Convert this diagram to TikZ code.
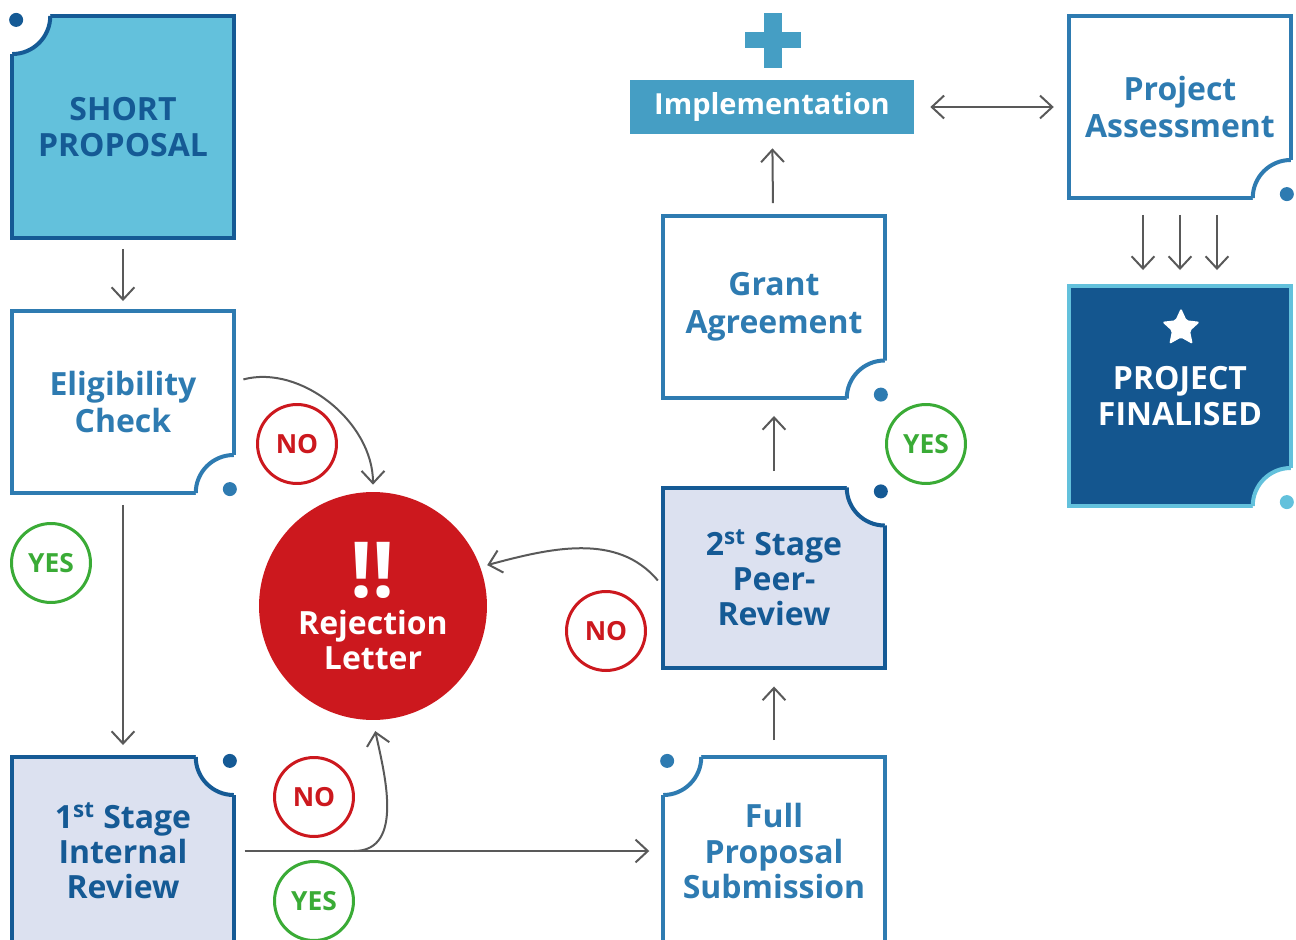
\documentclass[tikz,border=0pt]{standalone}
\usepackage{fontspec}
\setmainfont{Open Sans}
\usepackage{tikz}
\usetikzlibrary{positioning, calc, arrows.meta, shapes.geometric}
\definecolor{darkblue}{HTML}{155A95}
\definecolor{midblue}{HTML}{2E7BB1}
\definecolor{skyblue}{HTML}{63C1DC}
\definecolor{lavender}{HTML}{DCE1F0}
\definecolor{navyfill}{HTML}{14568F}
\definecolor{implblue}{HTML}{459EC4}
\definecolor{rejred}{HTML}{CC181E}
\definecolor{yesgreen}{HTML}{3AAB36}
\definecolor{arrowgray}{HTML}{595959}

% cut corner of a box: corner, start angle, border colour, dot colour
\newcommand{\cornernotch}[4]{%
  \fill[white] (#1) circle[radius=0.76cm];
  \draw[#3, line width=0.08cm] (#1) ++(#2:0.76cm) arc[start angle=#2, delta angle=90, radius=0.76cm];
  \fill[#4] (#1) ++(#2+45:0.11cm) circle[radius=0.14cm];
}

\begin{document}
\begin{tikzpicture}[x=0.02cm, y=0.02cm, >={Straight Barb[length=7pt, width=13pt]},
    stagebox/.style={draw, line width=0.08cm, outer sep=0pt, minimum width=4.43cm, align=center,
      font=\bfseries\fontsize{18.2}{20}\selectfont},
    tag/.style={circle, draw, line width=0.06cm, fill=white, minimum size=1.58cm, inner sep=0pt,
      font=\bfseries\fontsize{15}{15}\selectfont},
    flow/.style={->, arrowgray, line width=0.04cm}]
    \useasboundingbox (0,0) rectangle (1296,-940);

    % Boxes
    \node[stagebox, draw=darkblue, fill=skyblue, text=darkblue, minimum height=4.44cm] (sp) at (123,-127) {SHORT\\PROPOSAL};
    \node[stagebox, draw=midblue, fill=white, text=midblue, minimum height=3.64cm,
      font=\bfseries\fontsize{18.2}{21.6}\selectfont] (ec) at (123,-402) {Eligibility\\Check};
    \node[stagebox, draw=darkblue, fill=lavender, text=darkblue, minimum height=3.76cm] (ir) at (123,-851) {1\textsuperscript{st} Stage\\Internal\\Review};
    \node[stagebox, draw=midblue, fill=white, text=midblue, minimum height=3.76cm] (fp) at (774,-851) {Full\\Proposal\\Submission};
    \node[stagebox, draw=darkblue, fill=lavender, text=darkblue, minimum height=3.62cm] (pr) at (774,-578) {2\textsuperscript{st} Stage\\Peer-\\Review};
    \node[stagebox, draw=midblue, fill=white, text=midblue, minimum height=3.66cm,
      font=\bfseries\fontsize{18.2}{21.6}\selectfont] (ga) at (774,-307) {Grant\\Agreement};
    \node[fill=implblue, text=white, minimum width=5.68cm, minimum height=1.08cm,
      font=\bfseries\fontsize{16.5}{20}\selectfont] (impl) at (772,-107) {Implementation};
    \node[stagebox, draw=midblue, fill=white, text=midblue, minimum height=3.64cm,
      font=\bfseries\fontsize{18.2}{21.6}\selectfont] (pa) at (1180,-107) {Project\\Assessment};
    \node[stagebox, draw=skyblue, fill=navyfill, text=white, minimum height=4.4cm] (pf) at (1180,-396) {PROJECT\\FINALISED};
    \node[star, star points=5, star point ratio=2.1, fill=white, minimum size=0.8cm, inner sep=0pt,
      rounded corners=1pt] (star) at (1181,-328) {};
    \node[circle, fill=rejred, text=white, minimum size=4.56cm, inner sep=0pt, align=center,
      font=\bfseries\fontsize{18.2}{20}\selectfont] (rl) at (373,-606)
      {{\fontsize{44}{44}\selectfont !!}\\[1pt]Rejection\\Letter};

    % plus sign
    \fill[implblue] (764,-13) rectangle (782,-68);
    \fill[implblue] (745,-32) rectangle (801,-48);

    % Corners
    \cornernotch{sp.north west}{270}{darkblue}{darkblue}
    \cornernotch{ec.south east}{90}{midblue}{midblue}
    \cornernotch{ir.north east}{180}{darkblue}{darkblue}
    \cornernotch{fp.north west}{270}{midblue}{midblue}
    \cornernotch{pr.north east}{180}{darkblue}{darkblue}
    \cornernotch{ga.south east}{90}{midblue}{midblue}
    \cornernotch{pa.south east}{90}{midblue}{midblue}
    \cornernotch{pf.south east}{90}{skyblue}{skyblue}

    % Arrows
    \draw[flow, shorten <=0.22cm, shorten >=0.2cm] (sp) -- (ec);
    \draw[flow, shorten <=0.24cm, shorten >=0.24cm] (ec) -- (ir);
    \draw[flow, shorten <=0.2cm, shorten >=0.14cm] ([yshift=0.4cm]ec.east) to[out=15, in=90] (rl.north);
    \draw[flow, shorten <=0.22cm, shorten >=0.28cm] (ir.east) -- (fp.west);
    \path (ir.east) -- (fp.west) coordinate[pos=0.28] (split);
    \draw[flow, shorten >=0.22cm] (split) to[out=0, in=-78] (rl.south);
    \draw[flow, shorten <=0.34cm, shorten >=0.36cm] (fp) -- (pr);
    \draw[flow, shorten <=0.17cm, shorten >=0.14cm] ([yshift=-0.18cm]pr.west) to[out=130, in=15] (rl.20);
    \draw[flow, shorten <=0.33cm, shorten >=0.35cm] (pr) -- (ga);
    \draw[flow, shorten <=0.25cm, shorten >=0.28cm] (ga) -- (impl);
    \draw[flow, <->, shorten <=0.32cm, shorten >=0.31cm] (impl) -- (pa);
    \draw[flow, shorten <=0.34cm, shorten >=0.32cm] ([xshift=-0.74cm]pa.south) -- ([xshift=-0.74cm]pf.north);
    \draw[flow, shorten <=0.34cm, shorten >=0.32cm] (pa.south) -- (pf.north);
    \draw[flow, shorten <=0.34cm, shorten >=0.32cm] ([xshift=0.74cm]pa.south) -- ([xshift=0.74cm]pf.north);

    % Answers
    \node[tag, draw=rejred, text=rejred] (no1) at (297,-444) {NO};
    \node[tag, draw=yesgreen, text=yesgreen] (yes1) at (51,-563) {YES};
    \node[tag, draw=rejred, text=rejred] (no2) at (606,-631) {NO};
    \node[tag, draw=yesgreen, text=yesgreen] (yes2) at (926,-444) {YES};
    \node[tag, draw=rejred, text=rejred] (no3) at (314,-797) {NO};
    \node[tag, draw=yesgreen, text=yesgreen] (yes3) at (314,-901) {YES};
\end{tikzpicture}
\end{document}
